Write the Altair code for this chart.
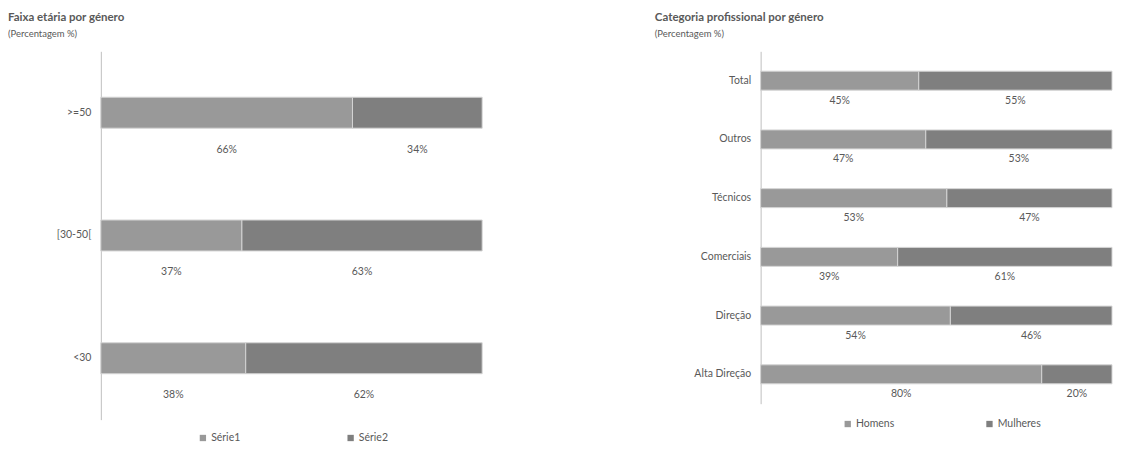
import altair as alt
import pandas as pd

# Left chart data
age_cats = [">=50", "[30-50[", "<30"]
age_s1 = [66, 37, 38]
age_s2 = [34, 63, 62]
age_series = ["Série1", "Série2"]

# Right chart data
prof_cats = ["Total", "Outros", "Técnicos", "Comerciais", "Direção", "Alta Direção"]
prof_men = [45, 47, 53, 39, 54, 80]
prof_women = [55, 53, 47, 61, 46, 20]
prof_series = ["Homens", "Mulheres"]

LIGHT = "#999999"
DARK = "#7f7f7f"
TXT = "#595959"
FONT = "Lato"


def long_df(cats, a, b, names):
    rows = []
    for c, va, vb in zip(cats, a, b):
        rows.append({"cat": c, "serie": names[0], "v": va, "ord": 0})
        rows.append({"cat": c, "serie": names[1], "v": vb, "ord": 1})
    return pd.DataFrame(rows)


def panel(df, cats, names, title, width, height, bar_size, label_dy, min_extent, lx, ly, col_pad):
    base = alt.Chart(df).transform_stack(
        stack="v", groupby=["cat"], as_=["v0", "v1"], sort=[alt.SortField("ord")]
    ).transform_calculate(mid="(datum.v0 + datum.v1) / 2", lab="datum.v + '%'")
    y = alt.Y(
        "cat:N",
        sort=cats,
        title=None,
        axis=alt.Axis(
            ticks=False,
            domainColor="#bfbfbf",
            domainWidth=1,
            labelColor=TXT,
            labelFont=FONT,
            labelFontSize=10.5,
            labelPadding=10,
            minExtent=min_extent,
        ),
    )
    xsc = alt.Scale(domain=[0, 100], nice=False, zero=True)
    bars = base.mark_bar(size=bar_size, stroke="#d4d4d4", strokeWidth=1).encode(
        y=y,
        x=alt.X("v0:Q", scale=xsc, axis=None),
        x2="v1:Q",
        color=alt.Color(
            "serie:N",
            scale=alt.Scale(domain=names, range=[LIGHT, DARK]),
            legend=alt.Legend(
                title=None,
                orient="none",
                legendX=lx,
                legendY=ly,
                direction="horizontal",
                symbolType="square",
                symbolSize=40,
                symbolStrokeWidth=0,
                labelFont=FONT,
                labelFontSize=10.5,
                labelColor=TXT,
                columnPadding=col_pad,
                labelOffset=3,
            ),
        ),
    )
    labels = base.mark_text(dy=label_dy, font=FONT, fontSize=10.5, color=TXT).encode(
        y=alt.Y("cat:N", sort=cats),
        x=alt.X("mid:Q", scale=xsc),
        text="lab:N",
    )
    return alt.layer(bars, labels).properties(
        width=width,
        height=height,
        title=alt.TitleParams(
            text=title,
            subtitle="(Percentagem %)",
            anchor="start",
            frame="bounds",
            font=FONT,
            fontSize=11.5,
            fontWeight="bold",
            color=TXT,
            subtitleFont=FONT,
            subtitleFontSize=9.5,
            subtitleColor=TXT,
            subtitlePadding=5,
            offset=13,
        ),
    )


left = panel(
    long_df(age_cats, age_s1, age_s2, age_series),
    age_cats, age_series, "Faixa etária por género",
    382, 369, 31, 37, 93, 97, 382, 105,
)
right = panel(
    long_df(prof_cats, prof_men, prof_women, prof_series),
    prof_cats, prof_series, "Categoria profissional por género",
    352, 353, 19, 20, 106, 82, 368, 90,
)

chart = alt.hconcat(left, right, spacing=172).resolve_scale(
    color="independent", y="independent", x="independent"
).resolve_legend(color="independent").configure_view(stroke=None).properties(
    padding={"left": 0, "top": 4, "right": 0, "bottom": 0}
)

chart.save("out.html", embed_options={"renderer": "svg", "actions": False})
